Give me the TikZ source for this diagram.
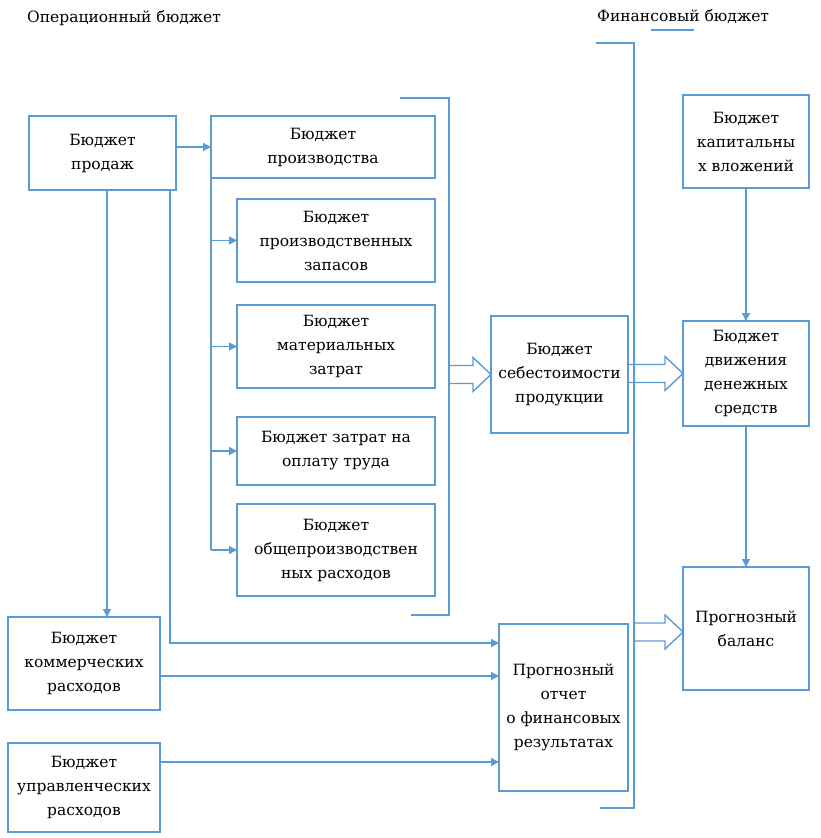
\documentclass[tikz,border=0pt]{standalone}
\usepackage{fontspec}
\setmainfont{DejaVu Serif}
\newfontfamily\tnr{DejaVu Serif}
\usetikzlibrary{arrows.meta,calc}
\definecolor{ln}{RGB}{91,155,213}
\newcommand{\barrow}[2]{\draw[barrowst] let \p1=(#1), \p2=(#2) in
  (\x1,{\y2-9pt}) -- ({\x2-18pt},{\y2-9pt}) -- ({\x2-18pt},{\y2-17pt}) -- (\x2,\y2)
  -- ({\x2-18pt},{\y2+17pt}) -- ({\x2-18pt},{\y2+9pt}) -- (\x1,{\y2+9pt});}
\begin{document}
\begin{tikzpicture}[x=1pt,y=-1pt,
  box/.style={draw=ln,line width=1.4pt,align=center,inner sep=0pt,outer sep=0pt,
    font=\tnr\fontsize{15.5}{24}\selectfont},
  conn/.style={draw=ln,line width=1.4pt},
  arr/.style={conn,-{Triangle[length=8pt,width=8pt]}},
  barrowst/.style={draw=ln,line width=1.4pt,line join=miter},
  lbl/.style={font=\tnr\fontsize{15.5}{20}\selectfont,inner sep=0pt,anchor=west}]
\useasboundingbox (0,0) rectangle (820,838);

\node[lbl] (oplbl) at (27,18) {Операционный бюджет};
\node[lbl] (finlbl) at (597,17) {Финансовый бюджет};
\draw[conn] (651,30) -- (694,30);

\node[box,minimum width=147pt,minimum height=74pt] (prod) at (102.5,153) {Бюджет\\продаж};
\node[box,minimum width=224pt,minimum height=62pt] (proizv) at (323,147) {Бюджет\\производства};
\node[box,minimum width=198pt,minimum height=83pt] (zapas) at (336,240.5) {Бюджет\\производственных\\запасов};
\node[box,minimum width=198pt,minimum height=83pt] (mater) at (336,346.5) {Бюджет\\материальных\\затрат};
\node[box,minimum width=198pt,minimum height=68pt] (oplata) at (336,451) {Бюджет затрат на\\оплату труда};
\node[box,minimum width=198pt,minimum height=92pt] (obshe) at (336,550) {Бюджет\\общепроизводствен\\ных расходов};
\node[box,minimum width=137pt,minimum height=117pt] (sebest) at (559.5,374.5) {Бюджет\\себестоимости\\продукции};
\node[box,minimum width=126pt,minimum height=93pt] (kapit) at (746,141.5) {Бюджет\\капитальны\\х вложений};
\node[box,minimum width=126pt,minimum height=105pt] (dvizh) at (746,373.5) {Бюджет\\движения\\денежных\\средств};
\node[box,minimum width=126pt,minimum height=123pt] (balans) at (746,628.5) {Прогнозный\\баланс};
\node[box,minimum width=152pt,minimum height=93pt] (kommer) at (84,663.5) {Бюджет\\коммерческих\\расходов};
\node[box,minimum width=129pt,minimum height=167pt] (otchet) at (563.5,707.5) {Прогнозный\\отчет\\о финансовых\\результатах};
\node[box,minimum width=152pt,minimum height=89pt] (uprav) at (84,787.5) {Бюджет\\управленческих\\расходов};

% brackets
\draw[conn] (400,98) -- (449,98) -- (449,615) -- (411,615);
\draw[conn] (596,43) -- (634,43) -- (634,808) -- (600,808);

% connectors
\draw[arr] (prod.east |- proizv.west) -- (proizv.west);
\draw[conn] (proizv.south west) -- (proizv.south west |- obshe.west);
\foreach \n in {zapas,mater,oplata,obshe} \draw[arr] (proizv.south west |- \n.west) -- (\n.west);

\coordinate (p1) at ($(prod.south)+(4.5,0)$);
\draw[arr] (p1) -- (p1 |- kommer.north);
\coordinate (p2) at ($(prod.south)+(67.5,0)$);
\coordinate (o1) at ($(otchet.north west)+(0,19)$);
\coordinate (o2) at ($(otchet.north west)+(0,52)$);
\coordinate (o3) at ($(otchet.north west)+(0,138)$);
\draw[arr] (p2) |- (o1);
\draw[arr] (kommer.east |- o2) -- (o2);
\draw[arr] (uprav.east |- o3) -- (o3);

\draw[arr] (kapit.south) -- (dvizh.north);
\draw[arr] (dvizh.south) -- (balans.north);

% block arrows
\coordinate (opbr) at (449,374.5);
\coordinate (finbr) at (634,632);
\coordinate (baltip) at (balans.west |- finbr);
\barrow{opbr}{sebest.west}
\barrow{sebest.east}{dvizh.west}
\barrow{finbr}{baltip}
\end{tikzpicture}
\end{document}
